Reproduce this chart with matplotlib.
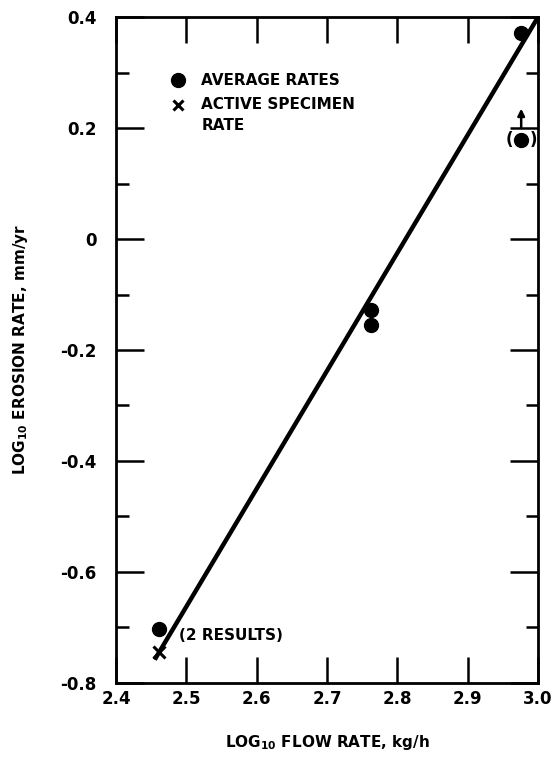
import numpy as np
import matplotlib.pyplot as plt
from matplotlib.ticker import MultipleLocator

plt.rcParams['font.family'] = ['DejaVu Sans']
plt.rcParams['font.weight'] = 'bold'
plt.rcParams['axes.labelweight'] = 'bold'
plt.rcParams['mathtext.default'] = 'bf'

# data
avg_flow = [2.461, 2.763, 2.763, 2.976, 2.976]
avg_erosion = [-0.702, -0.128, -0.155, 0.371, 0.178]
active_flow = [2.461]
active_erosion = [-0.745]
fit_flow = [2.455, 3.0]
fit_erosion = [-0.758, 0.4]

x_ticks = [2.4, 2.5, 2.6, 2.7, 2.8, 2.9, 3.0]
x_labels = ['2.4', '2.5', '2.6', '2.7', '2.8', '2.9', '3.0']
y_ticks = [-0.8, -0.6, -0.4, -0.2, 0.0, 0.2, 0.4]
y_labels = ['-0.8', '-0.6', '-0.4', '-0.2', '0', '0.2', '0.4']

fig = plt.figure(figsize=(5.53, 7.57), dpi=100)
ax = fig.add_axes([0.2098, 0.0978, 0.7632, 0.8797])

ax.plot(fit_flow, fit_erosion, color='black', lw=3.2, solid_capstyle='butt', zorder=2)
ax.plot(avg_flow, avg_erosion, 'o', color='black', ms=10, zorder=3)
ax.plot(active_flow, active_erosion, 'x', color='black', ms=8, mew=2.2, zorder=3)

# flagged point at the top right: parentheses and upward arrow
ax.text(2.976 - 0.017, 0.178, '(', ha='center', va='center', fontsize=12)
ax.text(2.976 + 0.017, 0.178, ')', ha='center', va='center', fontsize=12)
ax.annotate('', xy=(2.976, 0.24), xytext=(2.976, 0.195),
            arrowprops=dict(arrowstyle='-|>', color='black', lw=1.8, mutation_scale=10))

ax.text(2.489, -0.715, '(2 RESULTS)', ha='left', va='center', fontsize=11)

# legend drawn by hand
ax.plot([2.488], [0.286], 'o', color='black', ms=10)
ax.plot([2.488], [0.242], 'x', color='black', ms=7, mew=2.2)
ax.text(2.521, 0.286, 'AVERAGE RATES', ha='left', va='center', fontsize=11)
ax.text(2.521, 0.242, 'ACTIVE SPECIMEN', ha='left', va='center', fontsize=11)
ax.text(2.521, 0.204, 'RATE', ha='left', va='center', fontsize=11)

ax.set_xlim(2.4, 3.0)
ax.set_ylim(-0.8, 0.4)
ax.set_xticks(x_ticks)
ax.set_xticklabels(x_labels)
ax.set_yticks(y_ticks)
ax.set_yticklabels(y_labels)
ax.yaxis.set_minor_locator(MultipleLocator(0.1))

ax.tick_params(axis='x', which='major', direction='in', length=19, width=1.8,
               top=True, pad=5, labelsize=12)
ax.tick_params(axis='y', which='major', direction='in', length=20, width=1.8,
               right=True, pad=14, labelsize=12)
ax.tick_params(axis='y', which='minor', direction='in', length=9, width=1.8, right=True)

for s in ax.spines.values():
    s.set_linewidth(2)

ax.set_xlabel('LOG$_{10}$ FLOW RATE, kg/h', fontsize=11, fontweight='bold', labelpad=18)
ax.set_ylabel('LOG$_{10}$ EROSION RATE, mm/yr', fontsize=11, fontweight='bold', labelpad=22)

fig.savefig('out.png', dpi=100)
